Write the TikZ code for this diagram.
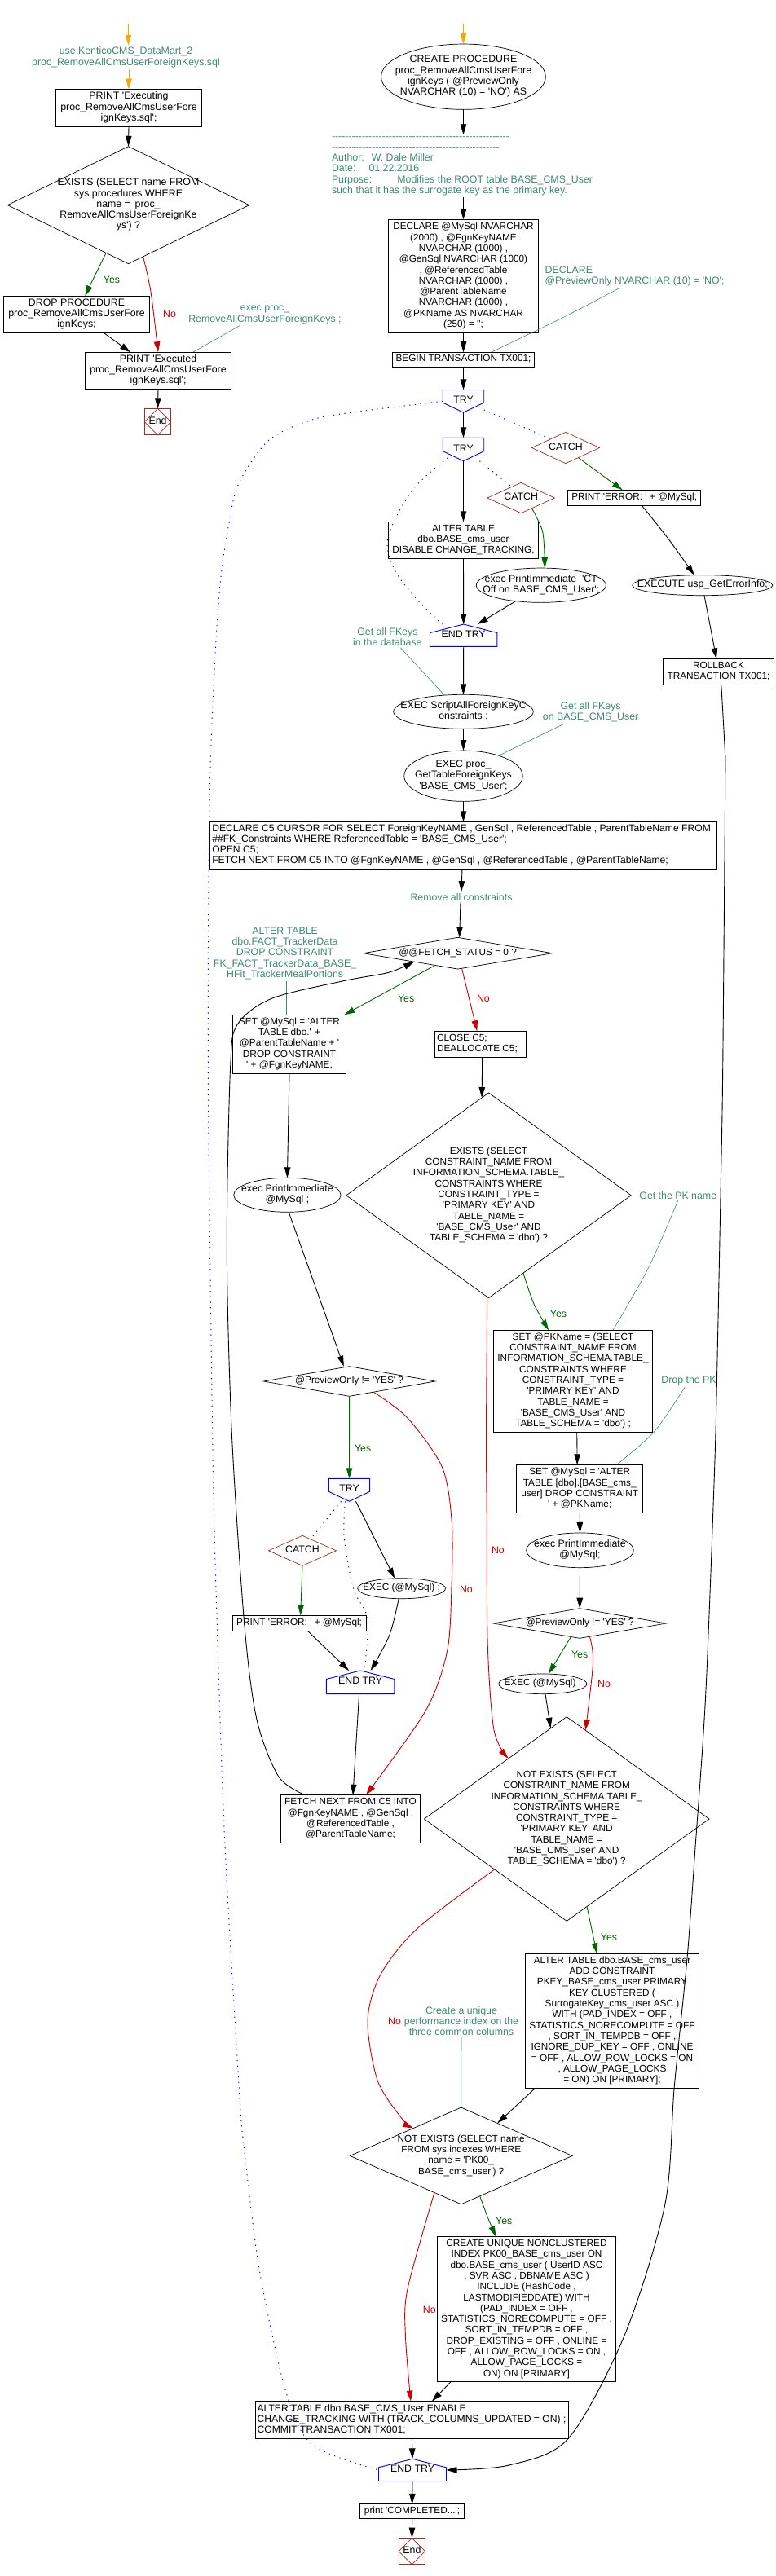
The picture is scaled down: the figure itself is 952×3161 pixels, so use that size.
\documentclass[tikz,border=0pt]{standalone}
\usepackage{tikz}
\usepackage{fontspec}
\usetikzlibrary{arrows.meta,shapes.geometric}
\newfontfamily\flowfamily{Liberation Sans}
\newcommand{\flowfont}{\flowfamily\fontsize{11.8}{13.3}\selectfont}
\newcommand{\midfont}{\flowfamily\fontsize{12.15}{13.3}\selectfont}
\newcommand{\widefont}{\flowfamily\fontsize{12.35}{13.3}\selectfont}
% lines that leave the size of the node alone
\newcommand{\ctext}[1]{\smash{\makebox[0pt]{\raisebox{-3pt}{\begin{tabular}{@{}c@{}}#1\end{tabular}}}}}
\newcommand{\ltext}[2]{\smash{\makebox[0pt][l]{\hspace*{-#1pt}\raisebox{-3pt}{\begin{tabular}{@{}l@{}}#2\end{tabular}}}}}
\newcommand{\trytop}[1]{\draw[tryline] (#1.north west) -- (#1.north east) -- ([yshift=12pt]#1.south east) -- (#1.south) -- ([yshift=12pt]#1.south west) -- cycle;}
\newcommand{\tryend}[1]{\draw[tryline] (#1.south west) -- (#1.south east) -- ([yshift=-10.5pt]#1.north east) -- (#1.north) -- ([yshift=-10.5pt]#1.north west) -- cycle;}
\newcommand{\stopmark}[1]{\draw[endline] (#1.north) -- (#1.east) -- (#1.south) -- (#1.west) -- cycle;}
\tikzset{sz/.style 2 args={minimum width=#1pt,minimum height=#2pt}}
\definecolor{cmtgreen}{HTML}{3E8A70}
\definecolor{yesgreen}{HTML}{006400}
\definecolor{nored}{HTML}{CC0000}
\definecolor{catchred}{HTML}{A52A2A}
\definecolor{startorange}{HTML}{FFA500}

\begin{document}
\begin{tikzpicture}[x=1pt,y=-1pt]
    \tikzstyle{every node}=[font=\flowfont,inner sep=0pt,outer sep=0pt]
    \tikzstyle{wide}=[font=\widefont]
    \tikzstyle{mid}=[font=\midfont]
    \tikzstyle{box}=[draw,line width=.9pt]
    \tikzstyle{dia}=[draw,diamond,line width=.7pt]
    \tikzstyle{oval}=[draw,ellipse,line width=.7pt]
    \tikzstyle{catchdia}=[draw=catchred,diamond,line width=.7pt]
    \tikzstyle{tryn}=[rectangle]
    \tikzstyle{endn}=[draw=catchred,line width=.9pt]
    \tikzstyle{cmt}=[wide,text=cmtgreen,inner sep=2pt,align=center]
    \tikzstyle{yeslab}=[wide,text=yesgreen]
    \tikzstyle{nolab}=[wide,text=nored]
    \tikzstyle{tryline}=[draw=blue,line width=.9pt]
    \tikzstyle{endline}=[draw=catchred,line width=.7pt]
    \tikzstyle{flowarr}=[-{Triangle[length=13pt,width=7.5pt]},line width=.9pt]
    \tikzstyle{startarr}=[flowarr,startorange]
    \tikzstyle{yesarr}=[flowarr,yesgreen]
    \tikzstyle{noarr}=[flowarr,nored]
    \tikzstyle{cmtline}=[cmtgreen,line width=.6pt]
    \tikzstyle{dotline}=[blue,line width=1pt,dash pattern=on 1.2pt off 5.5pt]
    \useasboundingbox (0,0) rectangle (952,3161);

    % Left block
    \coordinate (start1) at (157.5,29);
    \node[cmt] (usedb) at (154.5,70.2) {use KenticoCMS\_DataMart\_2\\proc\_RemoveAllCmsUserForeignKeys.sql};
    \node[box,wide,sz={179.4}{45.8}] (printstart) at (158,132.4) {\ctext{PRINT 'Executing\\proc\_RemoveAllCmsUserFore\\ignKeys.sql';}};
    \node[dia,wide,sz={296.4}{143.9}] (existsproc) at (157.5,251.7) {\ctext{EXISTS (SELECT name FROM\\sys.procedures WHERE\\name = 'proc\_\\RemoveAllCmsUserForeignKe\\ys') ?}};
    \node[box,wide,sz={179.4}{45.5}] (dropproc) at (94,386) {\ctext{DROP PROCEDURE\\proc\_RemoveAllCmsUserFore\\ignKeys;}};
    \node[box,wide,sz={179.4}{45.4}] (printdone) at (194,454.9) {\ctext{PRINT 'Executed\\proc\_RemoveAllCmsUserFore\\ignKeys.sql';}};
    \node[endn,wide,sz={32.4}{32.4}] (endleft) at (193.5,517.6) {\ctext{End}};
    \stopmark{endleft}
    \node[cmt] (execcmt) at (325,386.4) {exec proc\_\\RemoveAllCmsUserForeignKeys ;};
    \node[yeslab] (yes1) at (137,343.3) {Yes};
    \node[nolab] (no1) at (208,385.7) {No};

    \draw[startarr] (start1) -- (start1 |- usedb.north);
    \draw[startarr] (printstart.north |- usedb.south) -- (printstart.north);
    \draw[flowarr] (printstart.south) -- (existsproc.north);
    \draw[yesarr] plot[smooth] coordinates {(existsproc.-115.8) (116.7,337.5) ([xshift=10.3pt]dropproc.north)};
    \draw[noarr] plot[smooth] coordinates {(existsproc.-74.4) (185,358) (printdone.north)};
    \draw[flowarr] ([xshift=33.7pt]dropproc.south) -- ([xshift=-34pt]printdone.north);
    \draw[flowarr] (printdone.south) -- (endleft.north);
    \draw[cmtline] ([xshift=-31pt]execcmt.south) -- ([xshift=42.7pt]printdone.north);

    % Main column
    \coordinate (start2) at (568.3,29);
    \node[oval,wide,sz={201.8}{80.3}] (createproc) at (568.5,94.2) {\ctext{CREATE PROCEDURE\\proc\_RemoveAllCmsUserFore\\ignKeys ( @PreviewOnly\\NVARCHAR (10) = 'NO') AS}};
    \node[cmt,anchor=west,align=left] (headcmt) at (405,203.7) {-----------------------------------------------------\\--------------------------------------------------\\Author:\hspace{9pt}W. Dale Miller\\Date:\hspace{16pt}01.22.2016\\Purpose:\hspace{31pt}Modifies the ROOT table BASE\_CMS\_User\\such that it has the surrogate key as the primary key.};
    \node[box,sz={184.2}{139.5}] (declvars) at (568.5,339) {\ctext{DECLARE @MySql NVARCHAR\\(2000) , @FgnKeyNAME\\NVARCHAR (1000) ,\\@GenSql NVARCHAR (1000)\\, @ReferencedTable\\NVARCHAR (1000) ,\\@ParentTableName\\NVARCHAR (1000) ,\\@PKName AS NVARCHAR\\(250) = '';}};
    \node[cmt,anchor=west,align=left] (declcmt) at (666.7,339.2) {DECLARE\\@PreviewOnly NVARCHAR (10) = 'NO';};
    \node[box,sz={174.3}{18.2}] (begintx) at (568.5,441.3) {\ctext{BEGIN TRANSACTION TX001;}};
    \node[tryn,wide,sz={50.4}{27.7}] (tryouter) at (568.5,492.3) {\ctext{TRY}};
    \trytop{tryouter}
    \node[tryn,wide,sz={50.4}{28.4}] (tryinner) at (568.5,551.5) {\ctext{TRY}};
    \trytop{tryinner}
    \node[catchdia,wide,sz={83}{38.4}] (catchouter) at (694,549.5) {\ctext{CATCH}};
    \node[catchdia,wide,sz={82.7}{37.4}] (catchinner) at (639.2,611) {\ctext{CATCH}};
    \node[box,sz={163.4}{19}] (printerr) at (778.2,610.8) {\ctext{PRINT 'ERROR: ' + @MySql;}};
    \node[box,sz={184.2}{45}] (ctoff) at (568.5,662.8) {\ctext{ALTER TABLE\\dbo.BASE\_cms\_user\\DISABLE CHANGE\_TRACKING;}};
    \node[oval,wide,sz={159}{42.3}] (printct) at (663.8,718.2) {\ctext{exec PrintImmediate\ \ 'CT\\Off on BASE\_CMS\_User';}};
    \node[tryn,wide,sz={82.4}{27.3}] (endinner) at (568.7,779.7) {\ctext{END TRY}};
    \tryend{endinner}
    \node[oval,wide,sz={172.2}{25}] (usperr) at (861.8,718.2) {\ctext{EXECUTE usp\_GetErrorInfo;}};
    \node[box,sz={136.2}{32}] (rollback) at (881.5,824.3) {\ctext{ROLLBACK\\TRANSACTION TX001;}};
    \node[cmt] (fkcmt) at (475.4,781.7) {Get all FKeys\\in the database};
    \node[oval,wide,sz={171.5}{42}] (scriptfk) at (568.5,873.3) {\ctext{EXEC ScriptAllForeignKeyC\\onstraints ;}};
    \node[cmt] (tablecmt) at (724.6,873.7) {Get all FKeys\\on BASE\_CMS\_User};
    \node[oval,wide,sz={145.4}{62.3}] (gettable) at (568.5,952.2) {\ctext{EXEC proc\_\\GetTableForeignKeys\\'BASE\_CMS\_User';}};
    \node[box,mid,sz={621.9}{58}] (cursor) at (568.5,1037.3) {\ltext{308.2}{DECLARE C5 CURSOR FOR SELECT ForeignKeyNAME , GenSql , ReferencedTable , ParentTableName FROM\\\#\#FK\_Constraints WHERE ReferencedTable = 'BASE\_CMS\_User';\\OPEN C5;\\FETCH NEXT FROM C5 INTO @FgnKeyNAME , @GenSql , @ReferencedTable , @ParentTableName;}};
    \node[cmt] (removecmt) at (566,1100.7) {Remove all constraints};
    \node[dia,sz={232.2}{38.7}] (fetchst) at (561.6,1169.7) {\ctext{@@FETCH\_STATUS = 0 ?}};
    \node[yeslab] (yes2) at (498.2,1225.7) {Yes};
    \node[nolab] (no2) at (592.9,1225.7) {No};

    \draw[startarr] (start2) -- (createproc.north);
    \draw[flowarr] (createproc.south) -- (createproc.south |- headcmt.north);
    \draw[flowarr] (declvars.north |- headcmt.south) -- (declvars.north);
    \draw[flowarr] (declvars.south) -- (begintx.north);
    \draw[cmtline] plot[smooth] coordinates {([xshift=-18.6pt]declcmt.south) (692,389) ([xshift=34pt]begintx.north)};
    \draw[flowarr] (begintx.south) -- (tryouter.north);
    \draw[flowarr] (tryouter.south) -- (tryinner.north);
    \draw[dotline] ([yshift=3.3pt]tryouter.south east) -- (catchouter.150);
    \draw[dotline] ([xshift=-5.3pt]tryinner.south east) -- (catchinner.130);
    \draw[flowarr] (tryinner.south) -- (ctoff.north);
    \draw[dotline] plot[smooth] coordinates {([xshift=6pt,yshift=4pt]tryinner.south west) (505.6,601.7) (475.7,660) (484.5,700) (512.7,736.7) ([xshift=15pt]endinner.north west)};
    \draw[yesarr] plot[smooth] coordinates {(catchouter.-38.8) (734.5,580) ([xshift=-14.5pt]printerr.north)};
    \draw[yesarr] plot[smooth] coordinates {(catchinner.-44.3) (665.8,653) ([xshift=4.5pt]printct.north)};
    \draw[flowarr] plot[smooth] coordinates {([xshift=9.1pt]printerr.south) (819,660) ([xshift=-10pt]usperr.north)};
    \draw[flowarr] ([xshift=2.2pt]usperr.south) -- ([xshift=-2.6pt]rollback.north);
    \draw[flowarr] (ctoff.south) -- (endinner.north);
    \draw[flowarr] (printct.-148) -- ([xshift=17pt]endinner.north);
    \draw[flowarr] (endinner.south) -- (scriptfk.north);
    \draw[flowarr] (scriptfk.south) -- (gettable.north);
    \draw[flowarr] (gettable.south) -- (cursor.north);
    \draw[cmtline] ([xshift=16pt]fkcmt.south) -- (scriptfk.139.3);
    \draw[cmtline] ([xshift=-32.3pt]tablecmt.south) -- (gettable.30);
    \draw[flowarr] ([xshift=-1.5pt]cursor.south) -- (removecmt.north);
    \draw[flowarr] ([xshift=-1pt]removecmt.south) -- ([xshift=2pt]fetchst.north);

    % Loop over the keys
    \node[cmt] (altercmt) at (349.6,1169.7) {ALTER TABLE\\dbo.FACT\_TrackerData\\DROP CONSTRAINT\\FK\_FACT\_TrackerData\_BASE\_\\HFit\_TrackerMealPortions};
    \node[box,sz={139.3}{72}] (setsql) at (355,1281.3) {\ctext{SET @MySql = 'ALTER\\TABLE dbo.' +\\@ParentTableName + '\\DROP CONSTRAINT\\' + @FgnKeyNAME;}};
    \node[box,sz={112}{32}] (closecur) at (589.5,1281.3) {\ltext{53.5}{CLOSE C5;\\DEALLOCATE C5;}};
    \node[oval,wide,sz={131.3}{42}] (printsql) at (352.4,1466.3) {\ctext{exec PrintImmediate\\@MySql ;}};
    \node[dia,sz={210.5}{36.6}] (prevloop) at (428.6,1695) {\ctext{@PreviewOnly != 'YES' ?}};
    \node[tryn,wide,sz={50.1}{28}] (tryloop) at (428.5,1828.3) {\ctext{TRY}};
    \trytop{tryloop}
    \node[catchdia,wide,sz={83}{37}] (catchloop) at (371,1902.8) {\ctext{CATCH}};
    \node[box,sz={163.8}{19}] (printloop) at (367.1,1991.8) {\ctext{PRINT 'ERROR: ' + @MySql;}};
    \node[oval,sz={107.9}{25}] (execloop) at (492.6,1949.2) {\ctext{EXEC (@MySql) ;}};
    \node[tryn,wide,sz={83.4}{28.7}] (endloop) at (442.1,2064.3) {\ctext{END TRY}};
    \tryend{endloop}
    \node[box,sz={171.1}{58.6}] (fetchnext) at (430,2232) {\ctext{FETCH NEXT FROM C5 INTO\\@FgnKeyNAME , @GenSql ,\\@ReferencedTable ,\\@ParentTableName;}};
    \node[yeslab] (yes3) at (445.2,1777.7) {Yes};
    \node[nolab] (no3) at (571.9,1950) {No};

    \draw[yesarr] (fetchst.208) -- ([xshift=-2.3pt]setsql.north east);
    \draw[noarr] (fetchst.-75.5) -- ([xshift=-4.2pt]closecur.north);
    \draw[cmtline] ([xshift=1.7pt]altercmt.south) -- ([xshift=-3.7pt]setsql.north);
    \draw[flowarr] (setsql.south) -- (printsql.north);
    \draw[flowarr] (printsql.-85) -- ([xshift=-6.8pt]prevloop.north);
    \draw[yesarr] (prevloop.south) -- (tryloop.north);
    \draw[noarr] plot[smooth] coordinates {(prevloop.-24.3) (500,1740) (542.3,1800) (554.2,1866.7) (554,1946.7) (548.5,2026.7) (521.7,2100) ([xshift=19pt]fetchnext.north)};
    \draw[dotline] ([xshift=-10pt]tryloop.south) -- (catchloop.55);
    \draw[dotline] plot[smooth] coordinates {([xshift=-5pt]tryloop.south) (422.2,1886.7) (433.7,1950) (451,1986.7) ([xshift=5pt]endloop.north)};
    \draw[flowarr] ([xshift=8pt]tryloop.south) -- ([xshift=-8.4pt]execloop.north);
    \draw[yesarr] (catchloop.south) -- ([xshift=1.5pt]printloop.north);
    \draw[flowarr] ([xshift=10.3pt]printloop.south) -- ([xshift=-14pt]endloop.north);
    \draw[flowarr] plot[smooth] coordinates {([xshift=-3.4pt]execloop.south) (477.7,2006.7) ([xshift=12.6pt]endloop.north)};
    \draw[flowarr] ([xshift=-1.5pt]endloop.south) -- ([xshift=3pt]fetchnext.north);
    \draw[flowarr] plot[smooth] coordinates {([xshift=-55.6pt]fetchnext.north) (341.8,2180) (315,2110) (299.8,1993) (284.4,1760) (278.3,1533) (282.6,1310) (291.5,1256.7) (334,1225) (423.2,1203.3) (476.8,1193.3) (fetchst.191.5)};

    % Primary key
    \node[dia,sz={349.4}{251.7}] (existspk) at (599.5,1466.8) {\ctext{EXISTS (SELECT\\CONSTRAINT\_NAME FROM\\INFORMATION\_SCHEMA.TABLE\_\\CONSTRAINTS WHERE\\CONSTRAINT\_TYPE =\\'PRIMARY KEY' AND\\TABLE\_NAME =\\'BASE\_CMS\_User' AND\\TABLE\_SCHEMA = 'dbo') ?}};
    \node[cmt,anchor=west] (pkcmt) at (782.4,1466.7) {Get the PK name};
    \node[box,sz={195.2}{125}] (setpk) at (703,1694.8) {\ctext{SET @PKName = (SELECT\\CONSTRAINT\_NAME FROM\\INFORMATION\_SCHEMA.TABLE\_\\CONSTRAINTS WHERE\\CONSTRAINT\_TYPE =\\'PRIMARY KEY' AND\\TABLE\_NAME =\\'BASE\_CMS\_User' AND\\TABLE\_SCHEMA = 'dbo') ;}};
    \node[cmt,anchor=west] (dropcmt) at (809.4,1694.7) {Drop the PK};
    \node[box,sz={155.3}{59.4}] (dropsql) at (711.2,1827) {\ctext{SET @MySql = 'ALTER\\TABLE [dbo].[BASE\_cms\_\\user] DROP CONSTRAINT\\' + @PKName;}};
    \node[oval,wide,sz={131.7}{42.7}] (printpk) at (711.5,1902.3) {\ctext{exec PrintImmediate\\@MySql;}};
    \node[dia,sz={212.1}{36.6}] (prevpk) at (711.2,1992) {\ctext{@PreviewOnly != 'YES' ?}};
    \node[oval,sz={108.3}{24.7}] (execpk) at (665.8,2066.3) {\ctext{EXEC (@MySql) ;}};
    \node[dia,sz={349.7}{250.6}] (notexpk) at (695.2,2232) {\ctext{NOT EXISTS (SELECT\\CONSTRAINT\_NAME FROM\\INFORMATION\_SCHEMA.TABLE\_\\CONSTRAINTS WHERE\\CONSTRAINT\_TYPE =\\'PRIMARY KEY' AND\\TABLE\_NAME =\\'BASE\_CMS\_User' AND\\TABLE\_SCHEMA = 'dbo') ?}};
    \node[box,sz={213.4}{165}] (addpk) at (751,2479.8) {\ctext{ALTER TABLE dbo.BASE\_cms\_user\\ADD CONSTRAINT\\PKEY\_BASE\_cms\_user PRIMARY\\KEY CLUSTERED (\\SurrogateKey\_cms\_user ASC )\\WITH (PAD\_INDEX = OFF ,\\STATISTICS\_NORECOMPUTE = OFF\\, SORT\_IN\_TEMPDB = OFF ,\\IGNORE\_DUP\_KEY = OFF , ONLINE\\= OFF , ALLOW\_ROW\_LOCKS = ON\\, ALLOW\_PAGE\_LOCKS\\= ON) ON [PRIMARY];}};
    \node[yeslab] (yes4) at (685,1612.7) {Yes};
    \node[nolab] (no4) at (610.9,1902.7) {No};
    \node[yeslab] (yes5) at (711.2,2030.7) {Yes};
    \node[nolab] (no5) at (741,2066.7) {No};
    \node[yeslab] (yes6) at (747,2377.7) {Yes};

    \draw[flowarr] ([xshift=2.2pt]closecur.south) -- (existspk.94);
    \draw[yesarr] plot[smooth] coordinates {(existspk.-66) (655,1600) ([xshift=-29.8pt]setpk.north)};
    \draw[noarr] plot[smooth] coordinates {([xshift=-1.7pt]existspk.south) (596.5,1760) (597.3,1870) (598.3,2020) (606,2123) (notexpk.134.2)};
    \draw[cmtline] plot[smooth] coordinates {(pkcmt.south) (795,1556.7) ([xshift=49pt]setpk.north)};
    \draw[cmtline] plot[smooth] coordinates {([xshift=-5pt]dropcmt.south) (802.6,1756.7) ([xshift=45.4pt]dropsql.north)};
    \draw[flowarr] ([xshift=4.7pt]setpk.south) -- ([xshift=-3pt]dropsql.north);
    \draw[flowarr] (dropsql.south) -- (printpk.north);
    \draw[flowarr] (printpk.south) -- (prevpk.north);
    \draw[yesarr] (prevpk.-123) -- ([xshift=7.1pt]execpk.north);
    \draw[noarr] plot[smooth] coordinates {(prevpk.-53) (727.6,2040) (notexpk.78.9)};
    \draw[flowarr] ([xshift=3.2pt]execpk.south) -- (notexpk.100);
    \draw[yesarr] (notexpk.-77.5) -- ([xshift=-18.7pt]addpk.north);

    % Index and end of the transaction
    \node[cmt] (indexcmt) at (566,2480.2) {Create a unique\\performance index on the\\three common columns};
    \node[dia,sz={272.8}{118.7}] (notexix) at (565.7,2645.4) {\ctext{NOT EXISTS (SELECT name\\FROM sys.indexes WHERE\\name = 'PK00\_\\BASE\_cms\_user') ?}};
    \node[box,sz={219.3}{178.3}] (createix) at (646,2833.7) {\ctext{CREATE UNIQUE NONCLUSTERED\\INDEX PK00\_BASE\_cms\_user ON\\dbo.BASE\_cms\_user ( UserID ASC\\, SVR ASC , DBNAME ASC )\\INCLUDE (HashCode ,\\LASTMODIFIEDDATE) WITH\\(PAD\_INDEX = OFF ,\\STATISTICS\_NORECOMPUTE = OFF ,\\SORT\_IN\_TEMPDB = OFF ,\\DROP\_EXISTING = OFF , ONLINE =\\OFF , ALLOW\_ROW\_LOCKS = ON ,\\ALLOW\_PAGE\_LOCKS =\\ON) ON [PRIMARY]}};
    \node[box,mid,sz={384.2}{46.3}] (enablect) at (505.4,2969.7) {\ltext{189.8}{ALTER TABLE dbo.BASE\_CMS\_User ENABLE\\CHANGE\_TRACKING WITH (TRACK\_COLUMNS\_UPDATED = ON) ;\\COMMIT TRANSACTION TX001;}};
    \node[tryn,wide,sz={83}{27.2}] (endouter) at (506,3030.9) {\ctext{END TRY}};
    \tryend{endouter}
    \node[box,sz={128.2}{18}] (printok) at (505.6,3081.8) {\ctext{print 'COMPLETED...';}};
    \node[endn,wide,sz={32.2}{32.2}] (endmain) at (505.4,3130.6) {\ctext{End}};
    \stopmark{endmain}
    \node[nolab] (no6) at (484,2480.7) {No};
    \node[yeslab] (yes7) at (618.3,2725) {Yes};
    \node[nolab] (no7) at (526.8,2834) {No};

    \draw[noarr] plot[smooth] coordinates {(notexpk.215.6) (511.7,2366.7) (466.7,2423.3) (451,2480) (463.3,2553.3) (493.3,2600) (notexix.150)};
    \draw[flowarr] ([xshift=-94.3pt]addpk.south) -- (notexix.42.6);
    \draw[cmtline] (indexcmt.south) -- (notexix.north);
    \draw[yesarr] plot[smooth] coordinates {(notexix.-65.7) (598,2720) ([xshift=-37.6pt]createix.north)};
    \draw[noarr] plot[smooth] coordinates {(notexix.-126) (500,2808.8) (497.4,2866) ([xshift=-1.5pt]enablect.north)};
    \draw[flowarr] ([xshift=-93.1pt]createix.south) -- ([xshift=24.5pt]enablect.north);
    \draw[flowarr] (enablect.south) -- (endouter.north);
    \draw[flowarr] (endouter.south) -- (printok.north);
    \draw[flowarr] (printok.south) -- (endmain.north);
    \draw[flowarr] plot[smooth] coordinates {([xshift=3.3pt]rollback.south) (889.4,923) (889.7,960) (886.6,1320) (884,1467) (880.7,1633) (876.7,1800) (865.7,2080) (853,2266.7) (843,2403) (827.3,2560) (815.8,2705) (766,2866) (697,2992.5) (624.4,3025) (endouter.east)};
    % Outer try down to its end
    \draw[dotline] plot[smooth] coordinates {(tryouter.west) (440,505) (383,515) (330,540) (293,593) (280,647) (270,717) (263,823) (257,987) (255.4,1320) (260.7,1760) (265.3,1960) (275.6,2256.7) (293.4,2564) (299,2632.7) (318.3,2785.8) (350.8,2935) (383.3,3000) (endouter.west)};
\end{tikzpicture}
\end{document}
